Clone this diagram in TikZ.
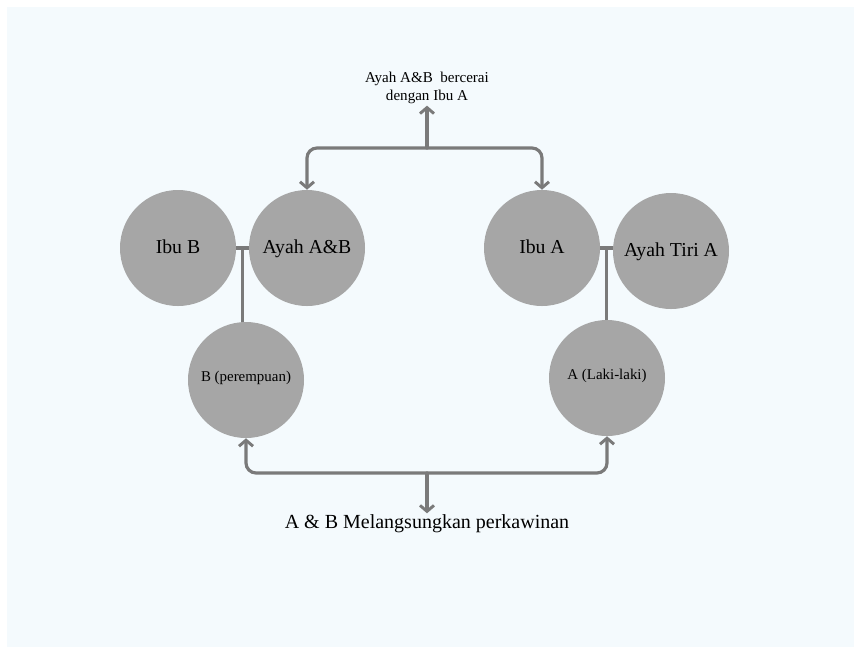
\documentclass[tikz,border=0pt]{standalone}
\usepackage{fontspec}
\setmainfont{Liberation Serif}
\usepackage{tikz}
\usetikzlibrary{arrows.meta, positioning, calc}
\definecolor{bgBlue}{HTML}{F4FAFD}
\definecolor{personGray}{HTML}{A6A6A6}
\definecolor{lineGray}{HTML}{7A7A7A}
\tikzset{
  person/.style={circle, fill=personGray, inner sep=0pt,
                 minimum size=87pt, text height=2.1ex, text depth=0.4ex,
                 font=\fontsize{14.8}{16}\selectfont},
  child/.style={circle, fill=personGray, inner sep=0pt,
                minimum size=87pt, text height=1.6ex, text depth=1ex,
                font=\fontsize{11.2}{13}\selectfont},
  conn/.style={draw=lineGray, line width=2.4pt},
  arr/.style={conn, line cap=round,
              arrows={-Straight Barb[length=4.5pt, width=10.5pt, line width=2.2pt]}},
  darr/.style={arr, rounded corners=7.5pt,
               arrows={Straight Barb[length=4.5pt, width=10.5pt, line width=2.2pt]-Straight Barb[length=4.5pt, width=10.5pt, line width=2.2pt]}},
  note/.style={align=center, inner sep=1pt},
}

\begin{document}
\begin{tikzpicture}[x=0.75pt, y=-0.75pt]
    %% frame
    \useasboundingbox (0,0) rectangle (854,647);
    \fill[bgBlue] (7,7) rectangle (854,647);

    %% parents
    \node[person] (ibuB)    at (178,248) {Ibu B};
    \node[person] (ayahAB)  at (307,248) {Ayah A\&B};
    \node[person] (ibuA)    at (542,248) {Ibu A};
    \node[person] (ayahTiri) at (671,251) {Ayah Tiri A};

    %% children
    \node[child] (anakB) at (246,380) {B (perempuan)};
    \node[child] (anakA) at (607,378) {A (Laki-laki)};

    %% texts
    \node[note, font=\fontsize{11.3}{13.8}\selectfont] (cerai) at (427,88)
          {Ayah A\&B\ \ bercerai\\dengan Ibu A};
    \node[note, font=\fontsize{15}{17}\selectfont] (kawin) at (427,524)
          {A \& B Melangsungkan perkawinan};

    %% couple lines
    \coordinate (pB) at ($(ibuB.east)!0.5!(ayahAB.west)$);
    \coordinate (pA) at ($(ibuA.east)!0.5!(ayahTiri.west)$);
    \draw[conn] (ibuB.east) -- (ayahAB.west);
    \draw[conn] (pB) -- (pB |- anakB.north);
    \draw[conn] (ibuA.east) -- (ibuA.east -| ayahTiri.west);
    \draw[conn] (pA) -- (pA |- anakA.north);

    %% divorce
    \coordinate (jCerai) at (427,148);
    \draw[darr] (ayahAB.north) -- (ayahAB.north |- jCerai) -| (ibuA.north);
    \draw[arr] (jCerai) -- (cerai.south);

    %% marriage
    \coordinate (jKawin) at (427,473);
    \draw[darr] (anakB.south) -- (anakB.south |- jKawin) -| (anakA.south);
    \draw[arr] (jKawin) -- (kawin.north);
\end{tikzpicture}
\end{document}
